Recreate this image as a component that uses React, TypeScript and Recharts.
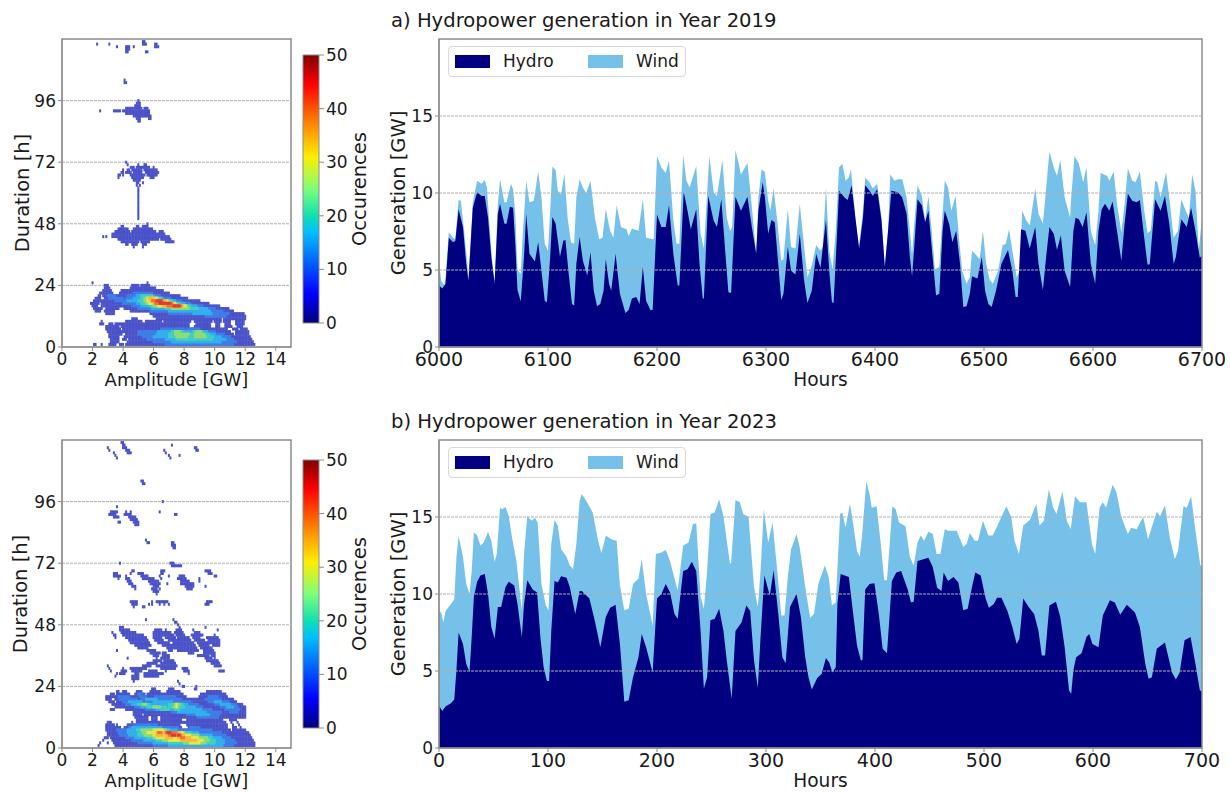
import React from 'react';
import {
  Area,
  Bar,
  BarChart,
  AreaChart,
  ReferenceArea,
  ReferenceLine,
  Scatter,
  ScatterChart,
  XAxis,
  YAxis
} from 'recharts';

// edge of the dark area and edge of the light area as [hour, GW]
const hydro2019 = [
  [6000, 4.0], [6003, 3.8], [6006, 4.1], [6009, 7.1], [6013, 6.8], [6015, 6.9], [6018, 8.95], [6022, 7.8], [6025, 5.4], [6027, 4.3],
  [6031, 9.05], [6035, 10.05], [6039, 9.8], [6042, 9.8], [6045, 8.4], [6048, 5.85], [6051, 4.15], [6054, 8.65], [6056, 9.3], [6060, 8.0],
  [6062, 8.0], [6065, 9.1], [6068, 9.05], [6070, 6.7], [6072, 3.7], [6075, 2.95], [6078, 5.85], [6080, 8.65], [6083, 6.05], [6088, 5.55],
  [6091, 6.8], [6094, 4.95], [6097, 3.0], [6099, 2.9], [6102, 5.85], [6104, 8.45], [6107, 8.0], [6111, 5.85], [6114, 6.9], [6116, 6.95],
  [6119, 4.75], [6122, 2.8], [6124, 2.7], [6126, 5.4], [6129, 7.15], [6132, 5.6], [6136, 4.65], [6139, 6.15], [6142, 3.65], [6145, 2.65],
  [6148, 2.8], [6151, 3.65], [6153, 5.7], [6156, 4.1], [6158, 3.65], [6162, 6.05], [6166, 3.45], [6171, 2.2], [6174, 2.4], [6177, 3.15],
  [6181, 3.25], [6184, 2.8], [6187, 5.2], [6190, 3.0], [6194, 2.4], [6196, 2.4], [6200, 8.6], [6204, 7.8], [6208, 7.8], [6211, 9.2],
  [6215, 6.05], [6219, 4.0], [6220.5, 4.0], [6224.5, 10.1], [6228, 8.85], [6231, 7.65], [6236, 8.95], [6239, 5.4], [6242, 3.15], [6243, 3.15],
  [6247, 9.8], [6252, 8.2], [6255, 7.8], [6259, 9.6], [6263, 5.85], [6265.5, 3.55], [6268, 3.5], [6272, 9.75], [6277, 8.85], [6283, 9.75],
  [6287, 7.8], [6291, 6.05], [6293, 8.85], [6297, 10.7], [6299, 9.7], [6302, 7.35], [6305, 8.25], [6308, 8.1], [6311, 5.6], [6314, 3.05],
  [6316, 3.45], [6320, 6.5], [6323, 4.95], [6327, 4.7], [6331, 7.35], [6335, 4.3], [6338, 2.85], [6342, 3.65], [6346, 6.05], [6350, 5.15],
  [6355, 8.25], [6358, 4.95], [6360.5, 2.9], [6362, 2.85], [6365, 7.1], [6367, 10.15], [6372, 9.7], [6375, 9.55], [6378.5, 10.5], [6382, 8.4],
  [6385.5, 6.4], [6389, 8.4], [6391, 10.5], [6395, 10.15], [6398, 9.8], [6402, 10.25], [6406, 8.2], [6409, 5.2], [6412, 7.55], [6415, 10.15],
  [6421, 10.05], [6425, 9.7], [6429, 8.65], [6432, 5.85], [6434, 4.6], [6436, 6.5], [6439, 9.6], [6443, 9.2], [6446, 8.1], [6449, 8.85],
  [6452, 6.5], [6456, 3.35], [6459, 3.45], [6462, 7.55], [6464, 8.85], [6468, 8.0], [6471, 6.8], [6474.5, 7.55], [6478, 5.4], [6481, 2.6],
  [6484, 2.65], [6487, 3.45], [6489, 4.6], [6494, 4.45], [6498, 5.85], [6501, 3.65], [6504, 2.8], [6507, 2.6], [6511, 3.65], [6516, 5.4],
  [6522, 6.3], [6526, 4.95], [6529, 3.25], [6531, 3.25], [6534, 7.65], [6538, 7.55], [6542, 6.4], [6547, 7.8], [6550, 5.4], [6554, 3.7],
  [6557, 5.85], [6560, 7.8], [6564, 7.35], [6567, 6.3], [6570.5, 7.25], [6574, 4.95], [6579, 3.9], [6582, 7.55], [6584, 8.4], [6587, 8.3],
  [6590.5, 7.8], [6594, 8.75], [6598, 5.4], [6602, 4.1], [6605, 7.55], [6608, 8.95], [6611, 9.3], [6615, 8.85], [6618, 9.45], [6622, 7.55],
  [6626, 5.6], [6629, 8.0], [6632, 9.95], [6636, 9.5], [6640, 9.4], [6643, 9.55], [6647, 7.1], [6650, 5.35], [6652, 5.35], [6657, 9.6],
  [6662, 8.85], [6666, 9.8], [6670, 8.0], [6674, 5.4], [6676, 5.85], [6681, 8.3], [6686, 7.8], [6690, 9.05], [6694, 7.55], [6698, 5.8], [6700, 5.95]
];

const wind2019 = [
  [6000, 5.5], [6002, 4.3], [6005, 4.0], [6006, 4.5], [6009, 7.45], [6013, 7.1], [6015, 7.0], [6018, 9.55], [6020, 9.5], [6023, 7.55],
  [6026, 5.4], [6027, 4.3], [6031, 9.4], [6035, 10.8], [6039, 10.6], [6042, 10.85], [6044, 10.35], [6046, 8.2], [6049, 5.4], [6051, 4.2],
  [6054, 9.3], [6056, 10.9], [6060, 9.4], [6062, 9.4], [6066, 10.6], [6068, 10.25], [6070, 8.6], [6072, 5.0], [6075, 4.75], [6077, 7.55],
  [6080, 10.8], [6083, 9.4], [6087, 9.5], [6091, 11.4], [6094, 9.7], [6097, 6.7], [6100, 6.25], [6102, 8.85], [6104, 11.7], [6107, 11.5],
  [6109, 10.15], [6112, 9.9], [6115, 11.25], [6118, 8.4], [6121, 6.8], [6124, 6.7], [6126, 9.7], [6129, 10.9], [6132, 10.35], [6135, 10.0],
  [6139, 10.8], [6143, 8.4], [6147, 7.0], [6150, 7.1], [6153, 8.95], [6157, 7.55], [6160, 7.1], [6163, 9.2], [6167, 7.8], [6172, 7.65],
  [6174, 7.2], [6177, 7.7], [6183, 7.55], [6187, 9.6], [6190, 7.1], [6196, 7.0], [6197, 7.0], [6200, 12.4], [6204, 11.65], [6208, 11.3],
  [6211, 12.1], [6215, 8.2], [6218, 6.7], [6220.5, 6.7], [6224, 12.5], [6227, 10.8], [6230, 10.35], [6236, 11.75], [6240, 7.35], [6243, 6.4],
  [6248, 12.4], [6252, 10.05], [6255, 9.8], [6260, 12.15], [6264, 8.4], [6267, 7.55], [6269, 7.8], [6272, 12.8], [6275, 11.9], [6277, 11.2],
  [6283, 11.95], [6287, 9.1], [6291, 6.05], [6293, 9.7], [6296, 11.55], [6299, 11.35], [6302, 9.5], [6304, 8.85], [6307, 10.3], [6310, 8.4],
  [6314, 5.6], [6316, 5.7], [6320, 8.95], [6323, 6.5], [6327, 6.4], [6331, 9.3], [6335, 6.5], [6338, 4.55], [6342, 5.3], [6346, 6.6],
  [6350, 6.25], [6352, 6.5], [6355, 10.35], [6358, 6.25], [6361, 5.05], [6364, 7.55], [6367, 11.65], [6370, 11.9], [6373, 10.8], [6376, 11.0],
  [6378, 11.55], [6382, 8.4], [6385, 6.4], [6389, 8.85], [6391, 11.0], [6395, 10.7], [6398, 10.3], [6402, 10.6], [6406, 8.4], [6409, 5.2],
  [6412, 7.55], [6414, 11.2], [6418, 10.8], [6421, 10.9], [6425, 10.9], [6429, 9.7], [6432, 7.55], [6434, 6.0], [6436, 8.0], [6439, 10.5],
  [6443, 9.8], [6446, 8.2], [6449, 9.8], [6452, 7.55], [6455, 5.05], [6459, 5.2], [6462, 8.65], [6464, 10.8], [6467, 10.35], [6470, 8.85],
  [6474, 9.8], [6477, 7.1], [6480, 4.95], [6484, 4.1], [6487, 4.55], [6489, 6.25], [6493, 5.95], [6496, 5.7], [6499, 7.55], [6502, 5.4],
  [6505, 4.4], [6508, 4.1], [6513, 4.95], [6517, 6.6], [6520, 6.7], [6523, 7.65], [6526, 6.25], [6530, 4.55], [6533, 4.95], [6535, 8.85],
  [6539, 8.2], [6542, 7.9], [6547, 10.3], [6550, 8.65], [6554, 8.0], [6556, 9.5], [6560, 12.7], [6564, 11.65], [6567, 11.1], [6570, 12.15],
  [6574, 9.7], [6579, 8.4], [6580, 9.7], [6583, 12.4], [6587, 11.9], [6591, 10.7], [6594, 11.65], [6598, 7.55], [6602, 6.6], [6605, 8.85],
  [6607, 11.3], [6613, 11.1], [6615, 10.8], [6619, 11.4], [6622, 9.3], [6626, 7.45], [6629, 9.3], [6632, 11.6], [6636, 10.8], [6639, 10.7],
  [6643, 11.4], [6647, 8.85], [6650, 7.4], [6653, 7.55], [6657, 10.8], [6659, 10.7], [6662, 9.7], [6667, 11.35], [6670, 9.7], [6674, 7.1],
  [6678, 7.55], [6681, 9.6], [6685, 8.85], [6688, 8.4], [6691, 11.2], [6694, 10.15], [6697, 6.25], [6700, 8.4]
];

const hydro2023 = [
  [0, 2.75], [3, 2.4], [6, 2.7], [11, 2.9], [14, 3.15], [16, 5.05], [18, 7.5], [22, 6.75], [25, 5.45], [28, 4.95],
  [30, 7.2], [32, 9.8], [35, 10.8], [38, 11.2], [42, 11.3], [45, 10.0], [48, 7.85], [51, 7.1], [54, 9.15], [57, 9.15],
  [61, 10.45], [64, 10.8], [69, 10.55], [72, 9.35], [76, 7.2], [78, 9.35], [81, 10.9], [86, 10.3], [90, 10.1], [93, 7.2],
  [96, 5.25], [99, 4.35], [101, 4.35], [103, 7.6], [106, 10.85], [109, 10.75], [112, 11.15], [117, 11.05], [120, 10.45], [125, 8.7],
  [129, 10.2], [131, 10.2], [138, 9.7], [143, 8.25], [148, 6.55], [153, 8.5], [157, 9.1], [162, 9.3], [166, 6.75], [170, 3.0],
  [174, 3.1], [178, 4.6], [183, 5.9], [186, 7.4], [190, 6.55], [196, 4.9], [200, 9.7], [204, 10.0], [208, 10.65], [212, 10.1],
  [216, 8.7], [219, 8.4], [224, 11.5], [228, 11.6], [232, 12.1], [236, 11.5], [240, 7.6], [243, 3.85], [246, 4.6], [249, 8.3],
  [253, 8.4], [257, 9.05], [261, 7.6], [264, 5.7], [268.5, 3.2], [272, 7.6], [277.5, 8.15], [282, 9.25], [285.5, 8.9], [289, 5.7],
  [292.5, 3.9], [295, 7.2], [298.5, 11.2], [303.5, 9.9], [307, 11.55], [311, 8.9], [315, 5.9], [318, 5.5], [322, 9.15], [328, 10.0],
  [332, 8.5], [336, 5.9], [339, 4.6], [342, 3.8], [347, 4.55], [351, 4.8], [355, 5.85], [358, 5.55], [361, 4.9], [364, 5.25],
  [365.5, 9.35], [368.5, 11.3], [376, 11.1], [380, 8.7], [383.5, 6.65], [387, 5.7], [388.5, 5.7], [391, 10.3], [395, 10.65], [399.5, 10.7],
  [403.5, 8.7], [407, 6.45], [411, 6.15], [415.5, 10.85], [419.5, 11.4], [424, 11.5], [430, 10.3], [433, 9.45], [435.5, 9.5], [439, 12.15],
  [449, 12.35], [453, 11.75], [457, 10.4], [461, 10.2], [463, 11.4], [467, 10.85], [472, 11.1], [476.5, 10.75], [481, 8.95], [485, 9.05],
  [489, 10.45], [492, 11.4], [497, 11.2], [501.5, 9.7], [504.5, 9.1], [509, 9.35], [512, 9.75], [516, 9.75], [521.5, 8.9], [526, 7.85],
  [530, 6.75], [532.5, 7.1], [536, 9.7], [541, 9.15], [546, 8.7], [550, 7.6], [553, 6.0], [556, 6.0], [560, 9.25], [566, 9.5],
  [570, 8.5], [574, 6.55], [578, 3.75], [580, 3.5], [582, 5.05], [584.5, 5.9], [589.5, 6.15], [594, 7.2], [596.5, 7.4], [599.5, 6.75],
  [605, 6.55], [609, 8.6], [615.5, 9.6], [620, 9.45], [625, 8.65], [631, 9.3], [638.5, 8.8], [643, 7.85], [648, 5.45], [651, 4.5],
  [654, 4.6], [658.5, 6.45], [666, 6.85], [672.5, 4.9], [676, 4.45], [679.5, 4.9], [684, 7.0], [689.5, 7.2], [694, 5.45], [698, 3.75], [700, 3.65]
];

const wind2023 = [
  [0, 8.9], [2, 8.8], [4, 8.15], [6, 8.9], [11, 9.35], [14, 9.65], [16, 12.4], [18, 13.75], [22, 12.4], [25, 10.65],
  [28, 10.0], [30, 11.5], [32, 14.0], [35, 13.8], [38, 13.15], [41, 13.35], [45, 14.05], [48, 13.45], [51, 12.1], [53, 12.6],
  [56, 15.6], [58, 15.5], [61, 15.65], [64, 15.05], [67, 13.65], [71, 12.15], [74, 10.2], [76, 8.95], [78, 12.6], [81, 15.05],
  [85, 14.75], [88, 14.95], [90.5, 14.65], [94, 10.65], [98, 9.25], [100.5, 8.95], [103, 13.25], [106, 14.8], [109, 14.45], [112, 12.9],
  [117, 12.4], [120, 11.85], [123, 11.6], [126, 13.25], [129, 16.05], [131, 16.5], [135, 16.05], [141, 15.3], [146, 13.45], [149, 12.65],
  [153, 13.8], [158, 13.55], [163, 13.45], [166, 10.55], [170, 8.95], [174, 9.05], [178, 10.65], [183, 11.0], [186, 12.25], [190, 10.0],
  [196, 7.95], [199, 12.6], [204, 12.7], [208, 12.85], [212, 12.15], [216, 11.0], [219, 10.25], [224, 13.15], [229, 13.35], [233, 14.55],
  [236, 14.6], [240, 9.8], [243, 9.05], [246, 11.5], [249, 15.2], [253, 15.3], [257, 16.15], [261, 15.05], [264, 13.45], [267, 11.95],
  [268, 12.05], [272, 16.1], [276, 15.95], [279, 15.2], [284, 15.0], [289, 10.45], [292.5, 9.15], [295, 11.5], [298, 15.5], [302, 13.35],
  [306, 14.65], [310, 11.75], [314, 8.6], [317, 8.6], [320, 11.1], [323, 12.9], [328, 13.9], [331, 13.0], [336, 10.45], [340.5, 8.45],
  [344, 8.7], [348, 10.65], [354, 11.85], [357.5, 11.1], [360.5, 9.25], [364, 9.45], [368, 15.2], [370, 15.3], [373, 14.3], [377, 15.85],
  [380, 14.55], [383.5, 12.8], [386, 12.4], [388.5, 14.1], [392, 17.3], [395, 16.5], [397, 15.6], [401.5, 15.7], [405, 13.45], [408.5, 10.9],
  [411, 10.9], [416, 15.7], [419, 15.5], [422, 14.65], [428, 14.4], [432, 12.4], [435.5, 11.85], [439, 13.35], [442, 13.8], [445, 13.45],
  [449, 14.05], [453, 13.9], [456.5, 12.6], [460, 12.6], [464, 14.2], [467, 14.1], [475, 14.1], [481, 13.05], [484, 13.25], [487, 13.95],
  [491.5, 13.45], [494.5, 13.45], [499, 14.75], [504, 13.8], [508, 13.8], [513, 14.55], [520.5, 15.7], [525, 15.0], [528, 13.45], [532, 12.6],
  [536, 14.45], [542, 14.8], [548, 15.85], [551, 14.45], [555, 14.75], [559.5, 16.8], [563.5, 15.6], [566.5, 15.2], [572, 16.65], [576, 14.75],
  [579.5, 14.2], [583.5, 16.35], [588, 15.95], [594, 15.95], [599, 13.25], [602, 12.6], [606, 15.6], [609, 15.95], [612, 15.6], [618, 17.1],
  [621.5, 16.6], [626, 15.0], [632, 13.9], [635, 14.3], [640, 14.2], [646, 15.0], [650.5, 13.55], [658.5, 15.35], [661.5, 15.05], [666, 15.75],
  [670.5, 13.65], [675, 12.25], [678, 12.8], [683, 15.7], [686, 15.6], [690, 16.35], [694, 14.1], [698.5, 11.85], [700, 11.85]
];

// heatmap rows: [duration, from, to, from, to, ...], amplitude spans with at least that many occurrences
const occ5of2019 = [
  [119, 5.3, 5.4], [118, 2.3, 2.3, 3.1, 3.1, 5.3, 5.5, 6.1, 6.2], [117, 3.55, 3.6, 4.2, 4.4, 4.7, 4.7, 6.1, 6.3], [116, 4.2, 4.4], [115, 4.2, 4.3, 5.5, 5.6],
  [104, 4.1, 4.1], [103, 4.1, 4.2],
  [96, 5.0, 5.0], [95, 4.9, 5.1], [94, 4.8, 5.1], [93, 4.2, 5.2, 5.4, 5.6], [92, 2.5, 2.5, 3.4, 3.8, 4.0, 5.7], [91, 4.2, 5.7], [90, 4.7, 5.8], [89, 4.9, 5.1, 5.7, 5.8], [88, 5.0, 5.1],
  [72, 4.2, 4.2], [71, 4.3, 4.3, 5.0, 5.0, 5.4, 5.5], [70, 4.5, 4.7, 4.9, 5.2, 5.3, 5.7, 6.0, 6.0], [69, 4.0, 4.0, 4.3, 4.4, 4.6, 5.2, 5.4, 6.2], [68, 3.9, 4.0, 4.2, 4.5, 4.7, 5.2, 5.5, 6.3],
  [67, 3.7, 3.8, 4.0, 4.0, 4.5, 5.4, 5.6, 6.2], [66, 3.7, 3.7, 4.6, 5.3, 5.8, 6.0], [65, 4.7, 5.1], [64, 4.9, 5.0, 5.3, 5.3], [63, 4.9, 4.9, 5.1, 5.1], [62, 5.0, 5.0],
  [61, 5.0, 5.0], [60, 5.0, 5.0], [59, 5.0, 5.0], [58, 5.0, 5.0], [57, 5.0, 5.0], [56, 5.0, 5.0], [55, 5.0, 5.0], [54, 5.0, 5.0], [53, 5.0, 5.0], [52, 5.0, 5.0], [51, 5.0, 5.0], [50, 5.0, 5.0],
  [48, 5.6, 5.6], [47, 3.9, 4.0, 4.9, 5.0, 5.3, 5.6], [46, 3.7, 4.3, 4.7, 5.9], [45, 3.5, 4.4, 4.6, 6.1, 6.4, 6.6], [44, 3.3, 6.7], [43, 2.7, 2.7, 2.9, 2.9, 3.3, 7.0],
  [42, 3.7, 6.3, 6.5, 7.1], [41, 3.9, 5.0, 5.2, 5.7, 6.8, 7.3], [40, 4.2, 4.3, 4.6, 4.9, 5.3, 5.5], [39, 4.7, 4.7, 5.3, 5.3],
  [25, 2.0, 2.0, 5.6, 5.6], [24, 2.8, 3.0, 4.6, 5.0, 5.2, 5.7], [23, 2.8, 3.1, 4.5, 6.1], [22, 2.7, 3.2, 3.9, 6.6], [21, 2.5, 3.3, 3.8, 7.0], [20, 2.4, 2.5, 2.7, 7.7],
  [19, 2.2, 2.5, 2.8, 8.2], [18, 2.1, 9.0], [17, 1.9, 2.4, 2.6, 9.6], [16, 2.0, 2.3, 2.6, 10.3], [15, 2.1, 2.6, 2.9, 3.7, 4.1, 10.9], [14, 2.2, 2.5, 2.8, 3.4, 4.5, 11.2],
  [13, 2.9, 3.4, 5.8, 11.9], [12, 6.0, 9.4, 9.6, 12.0], [11, 4.6, 4.9, 6.2, 10.4, 10.6, 12.0],
  [10, 2.6, 2.6, 4.2, 5.2, 5.5, 6.5, 6.7, 8.4, 8.7, 9.8, 10.0, 10.4, 10.6, 11.0, 11.4, 11.9],
  [9, 2.5, 2.7, 3.1, 3.3, 3.5, 3.7, 3.8, 8.3, 8.8, 9.7, 10.1, 10.3, 10.7, 11.0, 11.4, 11.9], [8, 2.9, 3.7, 3.9, 8.3, 8.7, 9.7, 10.1, 10.3, 10.7, 11.1, 11.5, 11.8],
  [7, 2.9, 3.8, 4.0, 10.8, 11.2, 11.5, 11.7, 12.1], [6, 3.0, 4.0, 4.1, 11.0, 11.4, 12.2], [5, 3.1, 3.9, 4.2, 11.2, 11.4, 12.2], [4, 3.1, 3.7, 4.1, 12.3],
  [3, 3.2, 3.7, 4.0, 4.2, 4.4, 12.4], [2, 3.2, 3.7, 4.3, 12.5], [1, 2.1, 2.2, 2.6, 2.6, 3.1, 3.5, 3.8, 4.0, 4.2, 12.6]
];
const occ10of2019 = [
  [21, 4.7, 5.9], [20, 3.0, 3.5, 4.3, 6.4], [19, 3.1, 4.0, 4.2, 7.1], [18, 3.5, 7.8], [17, 4.0, 8.4], [16, 4.6, 9.2], [15, 5.0, 10.0], [14, 5.8, 10.5], [13, 7.0, 10.9], [12, 9.4, 10.7],
  [7, 6.5, 8.0, 8.2, 9.0], [6, 5.0, 10.0], [5, 5.0, 10.6], [4, 5.3, 11.0], [3, 5.6, 11.2], [2, 6.0, 11.4], [1, 6.8, 11.2]
];
const occ15of2019 = [
  [20, 4.9, 6.0], [19, 4.7, 6.6], [18, 4.3, 7.4], [17, 4.9, 8.0], [16, 5.2, 8.8], [15, 5.9, 9.5], [14, 7.0, 9.7], [13, 8.6, 9.8],
  [6, 6.3, 9.5], [5, 6.2, 10.0], [4, 6.0, 10.4], [3, 6.8, 10.7], [2, 7.2, 10.4]
];
const occ20of2019 = [
  [20, 5.2, 5.9], [19, 5.2, 6.5], [18, 5.0, 7.2], [17, 5.2, 7.7], [16, 5.8, 8.4], [15, 6.8, 8.9],
  [6, 7.2, 7.9, 8.6, 9.2], [5, 7.0, 9.6], [4, 7.0, 9.9], [3, 7.5, 9.8]
];
const occ25of2019 = [
  [19, 5.4, 6.3], [18, 5.4, 7.0], [17, 5.5, 7.5], [16, 6.0, 8.2], [15, 7.2, 8.3],
  [6, 7.4, 7.7, 8.8, 9.1], [5, 7.4, 8.3, 8.7, 9.3], [4, 7.5, 8.2, 8.7, 9.4]
];
const occ30of2019 = [[19, 5.6, 6.2], [18, 5.6, 6.9], [17, 5.7, 7.4], [16, 6.3, 8.1]];
const occ35of2019 = [[19, 5.7, 6.0], [18, 5.8, 6.8], [17, 6.0, 7.3], [16, 6.6, 7.9]];
const occ40of2019 = [[18, 5.9, 6.6], [17, 6.1, 7.2], [16, 6.9, 7.8]];
const occ45of2019 = [[18, 6.2, 6.5], [17, 6.4, 7.1], [16, 7.3, 7.7]];

const occ5of2023 = [
  [119, 3.9, 4.0], [118, 4.0, 4.1, 7.2, 7.2], [117, 3.0, 3.0, 4.0, 4.2, 8.7, 8.8], [116, 3.1, 3.1, 4.2, 4.4, 6.7, 6.7, 8.8, 8.9], [115, 3.4, 3.4, 4.3, 4.5, 6.8, 6.8], [114, 3.5, 3.5, 7.0, 7.0, 7.7, 7.7], [113, 3.6, 3.6, 7.1, 7.1],
  [104, 5.2, 5.3], [103, 5.3, 5.4], [96, 6.6, 6.6], [94, 3.6, 3.6], [92, 3.2, 3.6, 4.2, 4.2, 4.5, 4.5, 6.4, 6.4], [91, 3.1, 3.5, 4.1, 4.5, 7.4, 7.5], [90, 3.4, 3.7, 4.4, 4.8], [89, 4.5, 4.9], [88, 3.7, 3.8, 4.7, 5.0], [87, 4.8, 5.0],
  [81, 5.5, 5.5], [80, 5.6, 5.7, 7.2, 7.3], [79, 7.2, 7.4], [78, 7.3, 7.4],
  [72, 3.8, 3.8, 7.1, 7.3], [71, 7.2, 7.8], [69, 4.6, 4.7, 6.5, 6.7, 9.4, 9.7], [68, 3.4, 3.6, 4.5, 4.5, 5.0, 5.3, 6.5, 6.6, 9.6, 9.8], [67, 3.4, 3.8, 4.2, 4.2, 5.2, 5.6, 6.4, 6.4, 7.0, 7.0, 7.7, 8.0, 10.0, 10.1],
  [66, 3.7, 3.7, 4.2, 4.4, 5.3, 6.0, 6.5, 6.5, 7.6, 8.1, 9.0, 9.0], [65, 4.3, 4.5, 5.7, 6.3, 7.8, 8.3, 9.0, 9.0], [64, 4.4, 4.6, 5.8, 6.4, 6.9, 6.9, 7.8, 8.6], [63, 4.6, 4.8, 6.0, 6.3, 8.1, 8.6, 9.4, 9.4], [62, 4.8, 4.8, 5.9, 6.2, 6.4, 6.4, 8.2, 8.5], [61, 6.0, 6.3], [60, 6.2, 6.2],
  [57, 4.5, 4.9, 5.9, 5.9, 6.2, 6.9, 9.5, 9.8], [56, 4.6, 4.9, 5.7, 5.7, 5.9, 5.9, 6.4, 6.4, 6.7, 6.7, 7.0, 7.0, 9.4, 9.6], [55, 4.7, 4.7, 5.3, 5.4], [50, 5.5, 5.5, 7.3, 7.3], [49, 7.4, 7.5], [48, 7.6, 7.6],
  [47, 3.8, 4.0, 7.7, 7.7, 9.4, 9.4], [46, 3.8, 4.4, 6.1, 6.5, 6.8, 6.8, 7.5, 7.8, 8.6, 8.6, 10.2, 10.2], [45, 3.3, 3.3, 3.9, 4.8, 6.0, 7.1, 7.4, 7.9, 8.7, 9.0], [44, 3.4, 3.5, 4.0, 5.3, 6.0, 7.3, 7.5, 8.0, 8.5, 9.2, 10.0, 10.0],
  [43, 3.5, 3.5, 4.2, 5.5, 6.0, 6.5, 6.8, 7.4, 7.6, 8.3, 8.6, 9.0, 9.5, 10.2], [42, 4.4, 5.6, 6.1, 6.6, 7.0, 8.4, 8.7, 9.3, 9.6, 10.3], [41, 4.5, 5.7, 6.3, 7.0, 7.3, 8.6, 8.9, 10.3], [40, 4.8, 5.8, 6.6, 8.7, 9.0, 9.6, 9.9, 10.3],
  [39, 5.0, 5.6, 6.9, 8.8, 9.1, 9.8], [38, 3.6, 3.6, 5.6, 6.1, 7.0, 7.2, 7.6, 8.9, 9.3, 9.9], [37, 5.8, 6.4, 6.6, 6.8, 8.3, 8.6, 9.3, 10.0], [36, 6.0, 6.3, 6.6, 7.0, 8.9, 9.6, 9.8, 10.0], [35, 4.3, 4.3, 6.2, 6.2, 6.5, 7.0, 9.4, 9.8, 10.0, 10.0],
  [34, 6.0, 6.5, 6.7, 7.3, 9.5, 10.2], [33, 5.6, 6.2, 6.5, 7.4, 9.8, 10.3], [32, 3.0, 3.0, 5.3, 5.8, 6.2, 7.5, 10.0, 10.4], [31, 3.1, 3.1, 4.0, 4.0, 4.5, 5.0, 5.1, 5.5, 6.5, 7.4, 7.9, 8.2], [30, 3.2, 3.2, 3.9, 4.2, 4.6, 5.2, 5.7, 6.2, 6.8, 6.8, 8.0, 8.3, 10.3, 10.6],
  [29, 3.6, 3.6, 3.8, 4.1, 4.8, 5.0, 5.4, 6.6, 8.3, 8.3], [28, 3.5, 3.5, 4.6, 5.0, 5.4, 6.3], [27, 4.6, 5.0], [26, 4.7, 4.7, 7.6, 7.6], [25, 7.7, 7.7], [24, 7.9, 8.0, 8.8, 8.8],
  [23, 5.9, 6.1, 7.0, 7.3, 8.7, 8.8], [22, 3.6, 3.7, 4.0, 4.2, 4.9, 5.2, 5.8, 6.4, 6.9, 7.7, 9.5, 10.4], [21, 3.2, 3.4, 3.6, 4.4, 4.8, 5.4, 5.6, 7.9, 9.1, 10.7], [20, 2.9, 8.1, 9.0, 10.8],
  [19, 2.9, 3.2, 3.5, 11.2], [18, 3.1, 3.4, 3.6, 11.4], [17, 3.3, 11.8], [16, 3.5, 12.0], [15, 3.2, 3.4, 4.2, 12.0], [14, 4.7, 12.0], [13, 4.7, 5.2, 5.4, 12.0],
  [12, 4.8, 5.6, 5.9, 6.2, 6.5, 12.0], [11, 4.9, 5.6, 5.9, 6.2, 6.5, 7.8, 8.2, 10.5, 11.0, 11.4], [10, 3.0, 3.2, 4.6, 4.6, 4.9, 10.7, 11.1, 11.1, 11.5, 11.5], [9, 2.9, 3.4, 3.6, 3.6, 4.3, 7.7, 8.2, 10.8, 11.2, 11.2, 11.6, 11.6],
  [8, 2.9, 3.8, 4.1, 7.8, 8.3, 10.8, 11.2, 11.4, 11.7, 11.7], [7, 2.9, 11.0, 11.2, 12.0], [6, 3.0, 12.2], [5, 3.0, 12.3], [4, 2.8, 3.0, 3.2, 12.4], [3, 2.7, 2.7, 3.3, 12.5], [2, 2.5, 2.5, 3.0, 3.0, 3.4, 12.6], [1, 2.4, 2.4, 3.5, 12.6]
];
const occ10of2023 = [
  [21, 5.0, 5.2], [20, 3.7, 4.4, 5.1, 5.5, 6.1, 7.4, 9.6, 10.2], [19, 3.8, 4.9, 5.2, 7.8, 9.4, 10.4], [18, 4.0, 8.4, 9.6, 10.9], [17, 4.2, 8.9, 10.0, 11.4], [16, 4.8, 9.2, 10.4, 11.5], [15, 5.5, 9.8, 10.7, 11.6], [14, 7.2, 10.4, 11.0, 11.5], [13, 8.2, 10.3], [12, 8.9, 10.2],
  [9, 4.7, 6.2], [8, 4.4, 7.6, 8.4, 9.0], [7, 3.6, 9.8], [6, 3.7, 10.4], [5, 3.8, 10.7], [4, 4.2, 11.0], [3, 4.6, 11.3], [2, 5.0, 11.4], [1, 6.0, 11.2]
];
const occ15of2023 = [
  [19, 5.5, 6.2], [18, 4.4, 5.2, 6.0, 7.2, 10.0, 10.4], [17, 4.6, 6.2, 6.4, 8.2, 10.4, 11.0], [16, 5.2, 8.7, 10.8, 11.2], [15, 6.2, 9.1], [14, 7.6, 9.4], [13, 8.8, 9.6],
  [8, 4.6, 6.5], [7, 4.3, 7.5], [6, 4.3, 8.9], [5, 4.4, 9.8], [4, 4.8, 10.4], [3, 5.4, 10.6], [2, 6.0, 10.6], [1, 7.0, 10.5]
];
const occ20of2023 = [
  [17, 5.0, 5.7, 7.0, 7.9], [16, 5.6, 6.8, 7.0, 8.0], [15, 6.5, 7.0, 7.4, 7.7],
  [7, 4.9, 7.0], [6, 5.0, 8.4], [5, 5.0, 9.0], [4, 5.6, 9.8], [3, 6.2, 10.0], [2, 7.0, 10.0]
];
const occ25of2023 = [
  [17, 5.3, 5.5, 7.4, 7.7], [16, 6.0, 6.4, 7.3, 7.6],
  [7, 5.2, 6.8], [6, 5.3, 8.0], [5, 5.4, 8.9], [4, 6.0, 9.5], [3, 6.6, 9.6], [2, 8.0, 9.4]
];
const occ30of2023 = [[17, 7.5, 7.5], [16, 7.5, 7.5], [7, 6.0, 6.6], [6, 5.6, 7.9], [5, 6.0, 8.4], [4, 6.2, 8.9], [3, 7.0, 9.2], [2, 8.4, 9.0]];
const occ35of2023 = [[6, 6.2, 7.7], [5, 6.2, 6.6, 6.8, 8.0], [4, 6.8, 7.2, 7.6, 8.4], [3, 7.8, 8.8]];
const occ40of2023 = [[6, 6.3, 6.5, 6.8, 7.5], [5, 7.0, 7.8], [4, 7.8, 8.0]];
const occ45of2023 = [[6, 6.9, 7.1], [5, 7.2, 7.4, 7.6, 7.7]];

const levelColors = ['#4a52c9', '#3f7ee6', '#33b0ee', '#41d0c0', '#8fdc76', '#e8e84a', '#f7b73e', '#f0703a', '#db3b36'];
const levels2019 = [occ5of2019, occ10of2019, occ15of2019, occ20of2019, occ25of2019, occ30of2019, occ35of2019, occ40of2019, occ45of2019];
const levels2023 = [occ5of2023, occ10of2023, occ15of2023, occ20of2023, occ25of2023, occ30of2023, occ35of2023, occ40of2023, occ45of2023];

const durationTicks = [0, 24, 48, 72, 96];
const amplitudeTicks = [0, 2, 4, 6, 8, 10, 12, 14];
const colorbarTicks = [0, 10, 20, 30, 40, 50];
const generationTicks = [0, 5, 10, 15];
const hours2019Ticks = [6000, 6100, 6200, 6300, 6400, 6500, 6600, 6700];
const hours2023Ticks = [0, 100, 200, 300, 400, 500, 600, 700];

const FONT = '"DejaVu Sans"';
const TEXT = '#1a1a1a';
const SPINE = '#8c8c8c';
const GRID = '#b0b0b0';
const tickStyle = { fill: TEXT, fontSize: 17, fontFamily: FONT };
const wideTickStyle = { fill: TEXT, fontSize: 19, fontFamily: FONT };
const xLabelStyle = { fill: TEXT, fontSize: 18, fontFamily: FONT };
const yLabelStyle = { fill: TEXT, fontSize: 19.5, fontFamily: FONT, textAnchor: 'middle' };

const mergeSeries = (hydro: number[][], wind: number[][]) => {
  const rows = new Map<number, any>();
  hydro.forEach(([hour, v]) => rows.set(hour, { hour, hydro: v }));
  wind.forEach(([hour, v]) => rows.set(hour, { ...(rows.get(hour) || { hour }), wind: v }));
  return [...rows.values()].sort((a, b) => a.hour - b.hour);
};

// one point per 0.1 GW along every span
const spansToCells = (rows: number[][]) => {
  const cells: { amp: number; dur: number }[] = [];
  rows.forEach(([dur, ...spans]) => {
    for (let i = 0; i < spans.length; i += 2) {
      for (let k = Math.round(spans[i] * 10); k <= Math.round(spans[i + 1] * 10); k++) {
        cells.push({ amp: k / 10, dur });
      }
    }
  });
  return cells;
};

const HeatCell = (props: any) => (
  <rect x={props.cx - 1} y={props.cy - 1.5} width={2} height={3} fill={props.fill} />
);

function HeatPanel({ top, levels, labelLeft }: { top: number; levels: number[][][]; labelLeft: number }) {
  return (
    <div style={{ position: 'absolute', left: 0, top: top - 10 }}>
      <ScatterChart width={300} height={360} margin={{ top: 10, right: 9, bottom: 0, left: 12 }}>
        <XAxis
          type="number"
          dataKey="amp"
          domain={[0, 15]}
          ticks={amplitudeTicks}
          tick={tickStyle}
          tickSize={4}
          stroke={SPINE}
          height={42}
          interval={0}
          label={{ value: 'Amplitude [GW]', position: 'insideBottom', offset: 3, style: xLabelStyle }}
        />
        <YAxis
          type="number"
          dataKey="dur"
          domain={[0, 120]}
          ticks={durationTicks}
          tick={tickStyle}
          tickSize={4}
          stroke={SPINE}
          width={50}
          interval={0}
          label={{ value: 'Duration [h]', angle: -90, position: 'insideLeft', offset: labelLeft, style: yLabelStyle }}
        />
        {levels.map((rows, i) => (
          <Scatter key={i} data={spansToCells(rows)} fill={levelColors[i]} shape={HeatCell} isAnimationActive={false} />
        ))}
        {durationTicks.slice(1).map((d) => (
          <ReferenceLine key={d} y={d} stroke={GRID} strokeDasharray="3 1" strokeWidth={1} />
        ))}
        <ReferenceArea x1={0} x2={15} y1={0} y2={120} fill="none" stroke={SPINE} strokeWidth={1.5} />
      </ScatterChart>
    </div>
  );
}

function Colorbar({ top, id }: { top: number; id: string }) {
  return (
    <div style={{ position: 'absolute', left: 295, top: top - 10 }}>
      <BarChart width={85} height={288} data={[{ name: 'occ', value: 50 }]} margin={{ top: 10, right: 0, bottom: 10, left: 8 }} barCategoryGap={0}>
        <defs>
          <linearGradient id={id} x1="0" y1="1" x2="0" y2="0">
            <stop offset="0" stopColor="#00007f" />
            <stop offset="0.11" stopColor="#0000ff" />
            <stop offset="0.34" stopColor="#00c0ff" />
            <stop offset="0.4" stopColor="#10e0b0" />
            <stop offset="0.5" stopColor="#7cff79" />
            <stop offset="0.62" stopColor="#ffee00" />
            <stop offset="0.75" stopColor="#ff8000" />
            <stop offset="0.89" stopColor="#ff0000" />
            <stop offset="1" stopColor="#7f0000" />
          </linearGradient>
        </defs>
        <XAxis dataKey="name" hide />
        <YAxis
          orientation="right"
          type="number"
          domain={[0, 50]}
          ticks={colorbarTicks}
          tick={tickStyle}
          tickSize={5}
          stroke={SPINE}
          axisLine={false}
          width={61}
          interval={0}
          label={{ value: 'Occurences', angle: -90, position: 'insideRight', offset: 21, style: yLabelStyle }}
        />
        <Bar dataKey="value" fill={`url(#${id})`} stroke={SPINE} strokeWidth={1} isAnimationActive={false} />
      </BarChart>
    </div>
  );
}

const LegendBox = ({ top }: { top: number }) => (
  <div
    style={{
      position: 'absolute',
      left: 448,
      top,
      width: 238,
      height: 31,
      boxSizing: 'border-box',
      border: '1px solid #d8d8d8',
      borderRadius: 4,
      background: '#fff',
      fontFamily: FONT,
      fontSize: 17,
      color: TEXT
    }}
  >
    <span style={{ position: 'absolute', left: 6, top: 8, width: 35, height: 13, background: '#000080' }} />
    <span style={{ position: 'absolute', left: 54, top: 4 }}>Hydro</span>
    <span style={{ position: 'absolute', left: 139, top: 8, width: 35, height: 13, background: '#75c1ea' }} />
    <span style={{ position: 'absolute', left: 187, top: 4 }}>Wind</span>
  </div>
);

function GenerationPanel(props: { top: number; title: string; data: any[]; domain: number[]; ticks: number[] }) {
  const { top, title, data, domain, ticks } = props;
  return (
    <>
      <div style={{ position: 'absolute', left: 391, top: top - 30, fontFamily: FONT, fontSize: 19.6, color: TEXT, whiteSpace: 'nowrap' }}>{title}</div>
      <div style={{ position: 'absolute', left: 380, top: top - 10 }}>
        <AreaChart width={848} height={360} data={data} margin={{ top: 10, right: 26, bottom: 0, left: 9 }}>
          <XAxis
            type="number"
            dataKey="hour"
            domain={domain}
            ticks={ticks}
            tick={wideTickStyle}
            tickSize={4}
            stroke={SPINE}
            height={42}
            interval={0}
            allowDataOverflow
            label={{ value: 'Hours', position: 'insideBottom', offset: 3, style: { ...xLabelStyle, fontSize: 18.6 } }}
          />
          <YAxis
            type="number"
            domain={[0, 20]}
            ticks={generationTicks}
            tick={tickStyle}
            tickSize={4}
            stroke={SPINE}
            width={50}
            interval={0}
            label={{ value: 'Generation [GW]', angle: -90, position: 'insideLeft', offset: 9, style: yLabelStyle }}
          />
          <Area dataKey="wind" name="Wind" type="linear" fill="#75c1ea" fillOpacity={1} stroke="none" connectNulls isAnimationActive={false} />
          <Area dataKey="hydro" name="Hydro" type="linear" fill="#000080" fillOpacity={1} stroke="none" connectNulls isAnimationActive={false} />
          {generationTicks.slice(1).map((v) => (
            <ReferenceLine key={v} y={v} stroke={GRID} strokeDasharray="3 1" strokeWidth={1} />
          ))}
          <ReferenceArea x1={domain[0]} x2={domain[1]} y1={0} y2={20} fill="none" stroke={SPINE} strokeWidth={1.5} />
        </AreaChart>
      </div>
      <LegendBox top={top + 7.5} />
    </>
  );
}

export default function App() {
  return (
    <div style={{ position: 'fixed', left: 0, top: 0, width: 1230, height: 793, background: '#fff', overflow: 'hidden' }}>
      <HeatPanel top={38.5} levels={levels2019} labelLeft={10} />
      <Colorbar top={55} id="jetA" />
      <GenerationPanel top={38.5} title="a) Hydropower generation in Year 2019" data={mergeSeries(hydro2019, wind2019)} domain={[6000, 6700]} ticks={hours2019Ticks} />
      <HeatPanel top={439.5} levels={levels2023} labelLeft={8} />
      <Colorbar top={460} id="jetB" />
      <GenerationPanel top={439.5} title="b) Hydropower generation in Year 2023" data={mergeSeries(hydro2023, wind2023)} domain={[0, 700]} ticks={hours2023Ticks} />
    </div>
  );
}
